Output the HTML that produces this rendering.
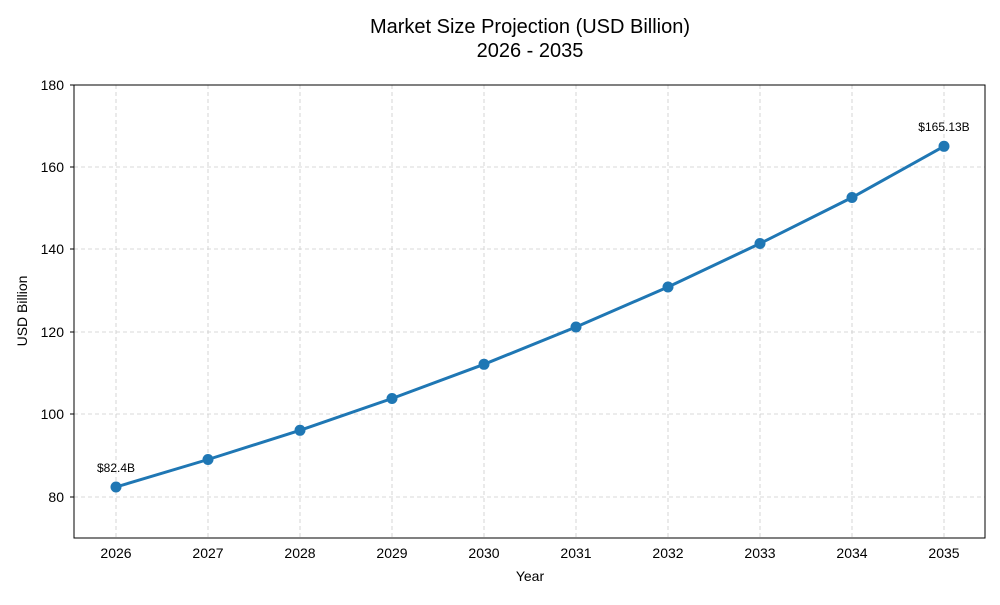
<!DOCTYPE html>
<html><head><style>body{margin:0;background:#fff}</style></head><body>
<svg width="1000" height="600" xmlns="http://www.w3.org/2000/svg" font-family="Liberation Sans, sans-serif">
<rect width="1000" height="600" fill="#fff"/>
<text x="530" y="33" text-anchor="middle" font-size="20" fill="#000">Market Size Projection (USD Billion)</text>
<text x="530" y="57" text-anchor="middle" font-size="20" fill="#000">2026 - 2035</text>
<g stroke="#ccc" stroke-dasharray="4,3" stroke-width="0.8">
<line x1="74" x2="985" y1="497" y2="497"/><line x1="74" x2="985" y1="414" y2="414"/>
<line x1="74" x2="985" y1="332" y2="332"/><line x1="74" x2="985" y1="249" y2="249"/>
<line x1="74" x2="985" y1="167" y2="167"/>
<line y1="85" y2="538" x1="116" x2="116"/><line y1="85" y2="538" x1="208" x2="208"/>
<line y1="85" y2="538" x1="300" x2="300"/><line y1="85" y2="538" x1="392" x2="392"/>
<line y1="85" y2="538" x1="484" x2="484"/><line y1="85" y2="538" x1="576" x2="576"/>
<line y1="85" y2="538" x1="668" x2="668"/><line y1="85" y2="538" x1="760" x2="760"/>
<line y1="85" y2="538" x1="852" x2="852"/><line y1="85" y2="538" x1="944" x2="944"/>
</g>
<rect x="74" y="85" width="911" height="453" fill="none" stroke="#000" stroke-width="1"/>
<g font-size="14" fill="#000" text-anchor="end">
<text x="64" y="502">80</text><text x="64" y="419">100</text><text x="64" y="337">120</text>
<text x="64" y="254">140</text><text x="64" y="172">160</text><text x="64" y="90">180</text>
</g>
<g stroke="#000"><line x1="70" x2="74" y1="497" y2="497"/><line x1="70" x2="74" y1="414" y2="414"/><line x1="70" x2="74" y1="332" y2="332"/><line x1="70" x2="74" y1="249" y2="249"/><line x1="70" x2="74" y1="167" y2="167"/><line x1="70" x2="74" y1="85" y2="85"/></g>
<g font-size="14" fill="#000" text-anchor="middle">
<text x="116" y="558">2026</text><text x="208" y="558">2027</text><text x="300" y="558">2028</text>
<text x="392" y="558">2029</text><text x="484" y="558">2030</text><text x="576" y="558">2031</text>
<text x="668" y="558">2032</text><text x="760" y="558">2033</text><text x="852" y="558">2034</text>
<text x="944" y="558">2035</text>
<text x="530" y="581">Year</text>
<text x="0" y="0" transform="translate(27,311) rotate(-90)">USD Billion</text>
</g>
<polyline fill="none" stroke="#1f77b4" stroke-width="3" points="116,487 208,459.5 300,430.3 392,398.5 484,364.3 576,327 668,287 760,243.5 852,197.5 944,146.3"/>
<g fill="#1f77b4">
<circle cx="116" cy="487" r="5.5"/><circle cx="208" cy="459.5" r="5.5"/><circle cx="300" cy="430.3" r="5.5"/>
<circle cx="392" cy="398.5" r="5.5"/><circle cx="484" cy="364.3" r="5.5"/><circle cx="576" cy="327" r="5.5"/>
<circle cx="668" cy="287" r="5.5"/><circle cx="760" cy="243.5" r="5.5"/><circle cx="852" cy="197.5" r="5.5"/>
<circle cx="944" cy="146.3" r="5.5"/>
</g>
<text x="116" y="472" font-size="12" text-anchor="middle">$82.4B</text>
<text x="944" y="131" font-size="12" text-anchor="middle">$165.13B</text>
</svg>
</body></html>
